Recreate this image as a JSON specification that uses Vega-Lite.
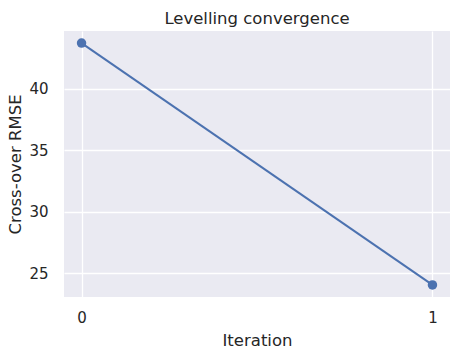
{
  "$schema": "https://vega.github.io/schema/vega-lite/v6.json",
  "width": 386,
  "height": 266,
  "autosize": {"type": "none"},
  "padding": {"left": 64, "top": 31, "right": 10, "bottom": 61},
  "background": "white",
  "title": {"text": "Levelling convergence", "fontSize": 16.5, "font": "DejaVu Sans", "fontWeight": "normal", "color": "#262626", "baseline": "alphabetic", "offset": 8, "dy": 17},
  "config": {
    "view": {"fill": "#EAEAF2", "stroke": null},
    "axis": {
      "domain": false, "ticks": false, "tickSize": 0,
      "gridColor": "white", "gridWidth": 1.3,
      "labelFont": "DejaVu Sans", "labelFontSize": 15, "labelColor": "#262626",
      "titleFont": "DejaVu Sans", "titleFontSize": 16.5, "titleFontWeight": "normal", "titleColor": "#262626"
    }
  },
  "data": {"values": [
    {"Iteration": 0, "RMSE": 43.7},
    {"Iteration": 1, "RMSE": 24.05}
  ]},
  "mark": {"type": "line", "color": "#4C72B0", "strokeWidth": 2, "point": {"filled": true, "size": 90, "color": "#4C72B0", "opacity": 1}},
  "encoding": {
    "x": {"field": "Iteration", "type": "quantitative", "scale": {"domain": [-0.05, 1.05], "nice": false, "zero": false},
      "axis": {"values": [0, 1], "format": "d", "labelPadding": 13, "title": "Iteration", "titlePadding": 7}},
    "y": {"field": "RMSE", "type": "quantitative", "scale": {"domain": [23.07, 44.68], "nice": false, "zero": false},
      "axis": {"values": [25, 30, 35, 40], "labelPadding": 16, "title": "Cross-over RMSE", "titlePadding": 5}}
  }
}
